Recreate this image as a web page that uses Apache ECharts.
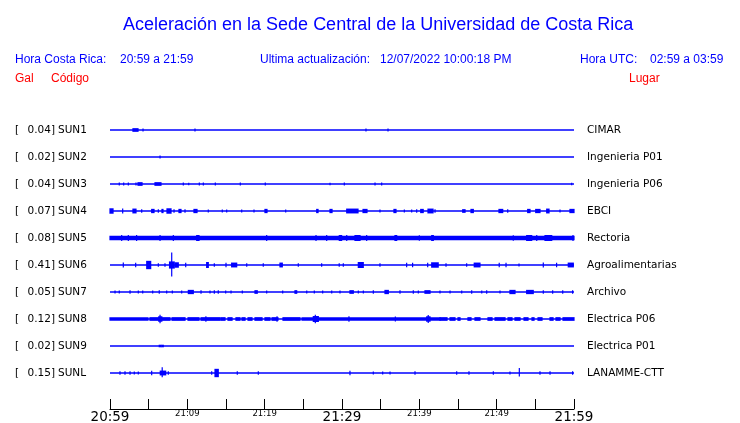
<!DOCTYPE html>
<html>
<head>
<meta charset="utf-8">
<script src="https://cdn.jsdelivr.net/npm/echarts@6/dist/echarts.min.js"></script>
<style>html,body{margin:0;padding:0;background:#fff}#c{width:740px;height:423px}</style>
</head>
<body>
<div id="c"></div>
<script>
// ---------- DATA ----------
const stations = ['SUN1','SUN2','SUN3','SUN4','SUN5','SUN6','SUN7','SUN8','SUN9','SUNL'];
const maxGal   = ['0.04','0.02','0.04','0.07','0.08','0.41','0.05','0.12','0.02','0.15'];
const places   = ['CIMAR','Ingenieria P01','Ingenieria P06','EBCI','Rectoria','Agroalimentarias','Archivo','Electrica P06','Electrica P01','LANAMME-CTT'];
const timeLabels = ['20:59','21:04','21:09','21:14','21:19','21:24','21:29','21:34','21:39','21:44','21:49','21:54','21:59'];
const bigLabels = ['20:59','21:29','21:59'];

// events: [startMinute, endMinute, amplitudeUp (Gal), amplitudeDown (Gal, optional)]
const evSUN1 = [[2.97,3.62,0.04],[4.27,4.27,0.03],[10.99,10.99,0.03],[33.10,33.10,0.03],[35.95,35.95,0.03]];
const evSUN2 = [[6.47,6.47,0.025]];
const evSUN3 = [[1.20,1.20,0.03],[1.77,1.77,0.03],[2.37,2.37,0.03],[3.36,3.36,0.03],[3.62,4.14,0.04],[5.82,6.59,0.04],
  [9.48,9.48,0.03],[10.18,10.18,0.02],[11.55,11.55,0.03],[12.07,12.07,0.03],[13.62,13.62,0.03],[16.85,16.85,0.03],
  [20.08,20.08,0.03],[28.45,28.45,0.02],[30.30,30.30,0.03],[34.27,34.27,0.03],[35.13,35.13,0.03],[59.70,59.70,0.02]];
const evSUN4 = [[0,0.39,0.07],[1.64,1.64,0.06],[2.97,3.36,0.06],[4.10,4.10,0.04],[5.39,5.69,0.05],[6.25,6.25,0.04],
  [6.72,6.85,0.05],[7.37,7.89,0.07],[8.28,8.28,0.04],[8.92,9.18,0.05],[9.70,9.70,0.04],[10.86,11.25,0.05],
  [12.71,12.71,0.03],[14.52,14.52,0.03],[15.09,15.09,0.03],[17.03,17.03,0.03],[18.62,18.62,0.03],[20.04,20.30,0.05],
  [22.72,22.72,0.03],[26.73,26.90,0.05],[28.45,28.71,0.05],[30.61,32.07,0.06],[32.72,33.23,0.05],[34.91,34.91,0.03],
  [36.72,36.98,0.05],[38.06,38.06,0.03],[39.01,39.01,0.03],[39.66,39.66,0.04],[40.18,40.50,0.05],[41.12,41.77,0.06],
  [42.03,42.03,0.04],[45.61,45.91,0.04],[46.68,46.98,0.05],[50.30,50.78,0.05],[51.43,51.43,0.04],[54.01,54.31,0.05],
  [55.05,55.60,0.05],[56.47,56.77,0.06],[58.19,58.19,0.03],[59.48,60,0.05]];
const evSUN5 = [[0,60,0.05],[1.51,1.51,0.08],[2.37,2.37,0.08],[3.44,3.44,0.08],[6.47,6.47,0.08],[8.19,8.19,0.08],
  [11.21,11.51,0.08],[20.26,20.26,0.08],[26.64,26.64,0.08],[28.02,28.02,0.08],[29.65,29.95,0.08],[30.61,30.61,0.08],
  [31.68,32.33,0.08],[33.19,33.19,0.08],[36.85,37.07,0.08],[40.00,40.00,0.07],[41.60,41.81,0.08],[52.15,52.15,0.07],
  [53.88,54.53,0.08],[55.18,55.18,0.08],[56.25,57.12,0.08],[59.87,59.87,0.08]];
const evSUN6 = [[1.72,1.72,0.06],[3.32,3.32,0.05],[4.75,5.26,0.12],[6.25,6.25,0.04],[7.11,7.11,0.04],[7.70,8.30,0.10],
  [7.98,7.98,0.41,0.37],[8.41,8.83,0.07],[9.79,9.79,0.05],[12.50,12.71,0.08],[13.49,13.49,0.04],[15.00,15.00,0.05],
  [15.73,16.38,0.06],[17.68,17.68,0.04],[19.82,19.82,0.04],[21.98,22.28,0.06],[24.35,24.35,0.04],[27.37,27.37,0.04],
  [29.64,29.64,0.04],[30.17,30.17,0.04],[32.11,32.75,0.08],[34.91,34.91,0.04],[38.36,38.36,0.05],[39.13,39.13,0.05],
  [41.08,41.08,0.05],[41.60,42.44,0.07],[43.45,43.45,0.04],[46.12,46.12,0.04],[47.10,47.84,0.06],[50.33,50.33,0.05],
  [51.21,51.21,0.05],[52.89,52.89,0.03],[56.03,56.03,0.06],[57.75,57.75,0.05],[59.26,59.91,0.06]];
const evSUN7 = [[0.65,0.65,0.03],[1.20,1.20,0.03],[2.59,2.59,0.04],[3.66,3.66,0.03],[4.23,4.23,0.03],[5.52,5.52,0.03],
  [6.37,6.37,0.04],[7.33,7.33,0.03],[8.06,8.06,0.03],[9.27,9.27,0.03],[10.13,10.77,0.05],[11.77,11.77,0.04],
  [12.93,12.93,0.03],[13.49,13.49,0.04],[14.00,14.00,0.04],[14.96,14.96,0.03],[15.65,15.65,0.03],[17.11,17.11,0.03],
  [18.75,19.04,0.04],[20.26,20.26,0.03],[22.33,22.33,0.03],[23.92,24.14,0.04],[25.44,25.44,0.03],[26.42,26.42,0.03],
  [27.50,27.50,0.03],[28.67,28.67,0.03],[29.74,29.74,0.03],[31.03,31.46,0.04],[32.11,32.11,0.03],[32.76,32.76,0.03],
  [34.05,34.05,0.04],[35.56,35.99,0.05],[37.50,37.50,0.04],[39.22,39.22,0.04],[39.87,39.87,0.03],[40.73,41.38,0.04],
  [42.67,42.67,0.03],[43.97,43.97,0.03],[45.48,45.48,0.03],[46.77,46.77,0.04],[48.07,48.07,0.03],[48.71,48.71,0.04],
  [50.43,50.43,0.03],[51.72,52.37,0.05],[53.88,54.73,0.05],[56.03,56.03,0.04],[57.24,57.24,0.04],[58.54,58.54,0.04],
  [59.82,59.82,0.04]];
const evSUN8 = [[0,4.91,0.04],[5.17,7.76,0.04],[8.02,9.70,0.04],[10.09,11.51,0.04],[11.77,14.22,0.04],
  [14.35,14.87,0.04],[15.26,15.78,0.04],[16.29,16.81,0.04],[17.07,17.46,0.04],[17.85,18.36,0.04],[18.75,19.66,0.04],
  [20.04,20.69,0.04],[20.95,21.72,0.04],[22.37,24.57,0.04],[24.83,42.67,0.04],[42.67,43.58,0.04],[43.97,44.61,0.04],
  [45.00,45.26,0.04],[46.29,46.68,0.04],[47.20,47.84,0.04],[48.88,49.40,0.04],[49.79,51.08,0.04],[51.47,51.98,0.04],
  [52.37,53.02,0.04],[53.54,54.05,0.04],[54.57,54.83,0.04],[55.35,55.86,0.04],[56.90,57.29,0.04],[57.67,58.19,0.04],
  [58.58,60,0.04],[6.47,6.47,0.12],[6.30,6.70,0.07],[26.29,26.94,0.08],[26.55,26.55,0.12],[40.95,41.38,0.07],[41.15,41.15,0.11],
  [12.40,12.40,0.07],[21.60,21.60,0.07],[30.90,30.90,0.07],[36.90,36.90,0.06]];
const evSUN9 = [[6.37,6.59,0.02],[6.72,6.89,0.02]];
const evSUNL = [[1.29,1.29,0.04],[1.94,1.94,0.04],[2.59,2.59,0.04],[3.14,3.14,0.03],[3.66,3.66,0.03],[5.39,5.39,0.05],
  [6.50,7.20,0.06],[6.75,6.75,0.17,0.12],[7.54,7.54,0.04],[13.15,13.15,0.04],[13.58,14.00,0.12],[16.46,16.46,0.04],
  [19.18,19.18,0.04],[31.03,31.03,0.05],[34.05,34.05,0.03],[35.26,35.26,0.03],[36.21,36.21,0.03],[39.44,39.44,0.04],
  [44.83,44.83,0.04],[46.42,46.42,0.04],[49.57,49.57,0.04],[51.72,51.72,0.03],[52.93,52.93,0.15,0.10],[55.60,55.60,0.04],
  [56.90,56.90,0.04],[59.82,59.82,0.04]];
const events = [evSUN1,evSUN2,evSUN3,evSUN4,evSUN5,evSUN6,evSUN7,evSUN8,evSUN9,evSUNL];

// ---------- CHART ----------
const SPACING = 0.93; // Gal between trace baselines
const N = stations.length;
const BLUE = '#0000ff';
const base = k => (N - 1 - k) * SPACING;

const chart = echarts.init(document.getElementById('c'), null, {renderer: 'canvas'});

const series = [];
stations.forEach((s, k) => {
  series.push({
    type: 'line', name: s + '_base', silent: true, animation: false, symbol: 'none',
    data: [[0, base(k)], [60, base(k)]],
    lineStyle: {color: BLUE, width: 1.3}
  });
  series.push({
    type: 'custom', name: s, silent: true, animation: false,
    encode: {x: [0, 1], y: [2, 3]},
    data: events[k].map(e => [e[0], e[1], base(k) + e[2], base(k) - (e.length > 3 ? e[3] : e[2])]),
    renderItem: (params, api) => {
      const p1 = api.coord([api.value(0), api.value(2)]);
      const p2 = api.coord([api.value(1), api.value(3)]);
      return {
        type: 'rect',
        shape: {x: p1[0] - 0.6, y: p1[1] - 0.7, width: Math.max(p2[0] - p1[0], 0) + 1.2, height: p2[1] - p1[1] + 1.4},
        style: {fill: BLUE}
      };
    }
  });
});

const option = {
  backgroundColor: '#ffffff',
  animation: false,
  title: {
    text: 'Aceleración en la Sede Central de la Universidad de Costa Rica',
    left: 118, top: 11,
    textStyle: {fontFamily: 'Liberation Sans', fontSize: 18, fontWeight: 'normal', color: BLUE}
  },
  grid: {left: 110, right: 166, top: 116.5, bottom: 36.5, outerBoundsMode: 'none', containLabel: false},
  xAxis: {
    type: 'value', min: 0, max: 60, interval: 5, offset: 22.5,
    axisLine: {show: true, onZero: false, lineStyle: {color: '#000', width: 1}},
    axisTick: {show: true, inside: true, length: 10, lineStyle: {color: '#000', width: 1}},
    splitLine: {show: false},
    axisLabel: {
      margin: 0, showMinLabel: true, showMaxLabel: true, hideOverlap: false,
      formatter: v => {
        const i = Math.round(v / 5);
        if (i % 2 !== 0) return '';
        const t = timeLabels[i];
        return bigLabels.includes(t) ? '{b|' + t + '}' : '{s|' + t + '}';
      },
      rich: {
        b: {fontFamily: 'DejaVu Sans', fontSize: 13.5, color: '#000', padding: [1, 0, 0, 0]},
        s: {fontFamily: 'DejaVu Sans', fontSize: 8.5, color: '#000', padding: [0, 0, 4, 0]}
      }
    }
  },
  yAxis: {
    type: 'value', min: -0.5 * SPACING, max: (N - 0.5) * SPACING,
    show: false, splitLine: {show: false}
  },
  series: series
};
chart.setOption(option);

// header & trace labels (positioned through the chart's own coordinate conversion)
const hdr = {fontFamily: 'Liberation Sans', fontSize: 12, fill: BLUE};
const red = {fontFamily: 'Liberation Sans', fontSize: 12, fill: '#ff0000'};
const lab = {fontFamily: 'DejaVu Sans', fontSize: 10.5, fill: '#000'};
const g = [
  {type: 'text', left: 15, top: 54, style: Object.assign({text: 'Hora Costa Rica:'}, hdr)},
  {type: 'text', left: 120, top: 54, style: Object.assign({text: '20:59 a 21:59'}, hdr)},
  {type: 'text', left: 260, top: 54, style: Object.assign({text: 'Ultima actualización:'}, hdr)},
  {type: 'text', left: 380, top: 54, style: Object.assign({text: '12/07/2022 10:00:18 PM'}, hdr)},
  {type: 'text', left: 580, top: 54, style: Object.assign({text: 'Hora UTC:'}, hdr)},
  {type: 'text', left: 650, top: 54, style: Object.assign({text: '02:59 a 03:59'}, hdr)},
  {type: 'text', left: 15, top: 73, style: Object.assign({text: 'Gal'}, red)},
  {type: 'text', left: 51, top: 73, style: Object.assign({text: 'Código'}, red)},
  {type: 'text', left: 629, top: 73, style: Object.assign({text: 'Lugar'}, red)}
];
stations.forEach((s, k) => {
  const y = chart.convertToPixel({gridIndex: 0}, [0, base(k)])[1];
  const xr = chart.convertToPixel({gridIndex: 0}, [60, base(k)])[0];
  g.push({type: 'text', x: 15, y: y, style: Object.assign({text: '[', textVerticalAlign: 'middle'}, lab)});
  g.push({type: 'text', x: 55, y: y, style: Object.assign({text: maxGal[k] + ']', textAlign: 'right', textVerticalAlign: 'middle'}, lab)});
  g.push({type: 'text', x: 58, y: y, style: Object.assign({text: s, textVerticalAlign: 'middle'}, lab)});
  g.push({type: 'text', x: xr + 13, y: y, style: Object.assign({text: places[k], textVerticalAlign: 'middle'}, lab)});
});
chart.setOption({graphic: g});
</script>
</body>
</html>
